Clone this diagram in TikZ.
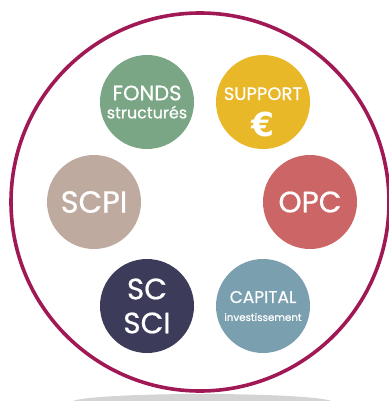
\documentclass[tikz,border=0pt]{standalone}
\usepackage{fontspec}
\setmainfont{Poppins}[FakeBold=0.6]
\newfontfamily\eurofont{DejaVu Sans}
\definecolor{ring}{RGB}{160,25,85}
\definecolor{cfonds}{RGB}{122,166,133}
\definecolor{csupport}{RGB}{232,184,40}
\definecolor{cscpi}{RGB}{190,170,158}
\definecolor{copc}{RGB}{204,102,102}
\definecolor{csci}{RGB}{60,60,90}
\definecolor{ccap}{RGB}{122,160,176}
\definecolor{shadowgrey}{RGB}{212,212,212}
\begin{document}
\begin{tikzpicture}[x=1pt,y=-1pt,
  bub/.style={circle,minimum size=94pt,inner sep=0pt,text=white,align=center,font=\fontsize{21}{21}\selectfont},
  lbl/.style={inner sep=0pt,text=white,align=center}]
\useasboundingbox (0,0) rectangle (388,401);
\fill[shadowgrey] (202,402) ellipse [x radius=130pt, y radius=8pt];
\node[circle,draw=ring,line width=3.6pt,fill=white,minimum size=378pt,inner sep=0pt] (ring) at (200,202) {};
\node[bub,fill=cfonds] (fonds) at (147,102) {FONDS\\[-3pt]{\fontsize{16}{16}\selectfont structurés}};
\node[bub,fill=csupport] (support) at (263,102) {};
\node[lbl,anchor=base,font=\fontsize{18}{18}\selectfont] (supporttxt) at (263,100) {SUPPORT};
\node[lbl,anchor=base,font=\fontsize{33}{33}\eurofont\bfseries] (euro) at (263,136) {€};
\node[bub,fill=cscpi,font=\fontsize{30.5}{30.5}\selectfont] (scpi) at (94,202) {SCPI};
\node[bub,fill=copc,font=\fontsize{29.5}{29.5}\selectfont] (opc) at (310,202) {OPC};
\node[bub,fill=csci,font=\fontsize{29.5}{34}\selectfont] (sci) at (147,306) {SC\\SCI};
\node[bub,fill=ccap] (cap) at (263,306) {{\fontsize{17}{17}\selectfont CAPITAL}\\[-3pt]{\fontsize{10.3}{10.3}\selectfont investissement}};
\end{tikzpicture}
\end{document}
